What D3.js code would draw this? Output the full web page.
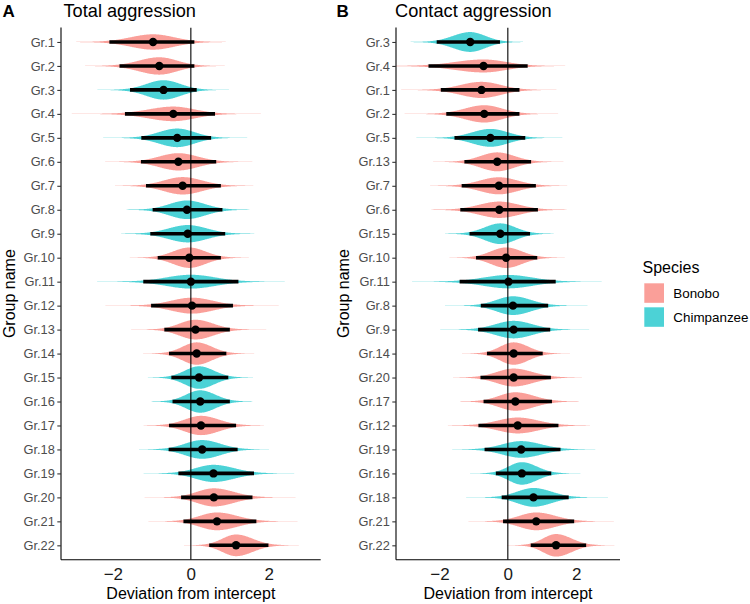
<!DOCTYPE html>
<html><head><meta charset="utf-8">
<script src="https://cdn.jsdelivr.net/npm/d3@7"></script>
<style>body{margin:0;background:#fff}svg{display:block;font-family:"Liberation Sans",Arial,sans-serif}</style>
</head><body><svg id="c" width="750" height="604"></svg>
<script>
// ---- Data: Panel A (Total aggression), top to bottom ----
const groupsA  = ["Gr.1","Gr.2","Gr.3","Gr.4","Gr.5","Gr.6","Gr.7","Gr.8","Gr.9","Gr.10","Gr.11","Gr.12","Gr.13","Gr.14","Gr.15","Gr.16","Gr.17","Gr.18","Gr.19","Gr.20","Gr.21","Gr.22"];
const speciesA = ["Bonobo","Bonobo","Chimpanzee","Bonobo","Chimpanzee","Bonobo","Bonobo","Chimpanzee","Chimpanzee","Bonobo","Chimpanzee","Bonobo","Bonobo","Bonobo","Chimpanzee","Chimpanzee","Bonobo","Chimpanzee","Chimpanzee","Bonobo","Bonobo","Bonobo"];
const medianA  = [-0.97,-0.81,-0.70,-0.45,-0.35,-0.32,-0.21,-0.10,-0.08,-0.04,0.00,0.03,0.12,0.15,0.21,0.24,0.26,0.29,0.58,0.59,0.67,1.16];
const lowerA   = [-2.09,-1.83,-1.56,-1.69,-1.27,-1.28,-1.15,-0.98,-1.04,-0.85,-1.22,-1.02,-0.68,-0.56,-0.50,-0.47,-0.56,-0.57,-0.32,-0.25,-0.19,0.47];
const upperA   = [0.09,0.09,0.15,0.62,0.52,0.65,0.77,0.81,0.88,0.77,1.22,1.08,1.00,0.91,0.96,1.00,1.16,1.20,1.62,1.58,1.68,1.99];

// ---- Data: Panel B (Contact aggression), top to bottom ----
const groupsB  = ["Gr.3","Gr.4","Gr.1","Gr.2","Gr.5","Gr.13","Gr.7","Gr.6","Gr.15","Gr.10","Gr.11","Gr.8","Gr.9","Gr.14","Gr.20","Gr.17","Gr.12","Gr.19","Gr.16","Gr.18","Gr.21","Gr.22"];
const speciesB = ["Chimpanzee","Bonobo","Bonobo","Bonobo","Chimpanzee","Bonobo","Bonobo","Bonobo","Chimpanzee","Bonobo","Chimpanzee","Chimpanzee","Chimpanzee","Bonobo","Bonobo","Bonobo","Bonobo","Chimpanzee","Chimpanzee","Chimpanzee","Bonobo","Bonobo"];
const medianB  = [-1.10,-0.71,-0.77,-0.69,-0.51,-0.31,-0.26,-0.25,-0.22,-0.05,0.02,0.15,0.17,0.17,0.17,0.22,0.29,0.39,0.41,0.75,0.83,1.41];
const lowerB   = [-2.08,-2.32,-1.96,-1.80,-1.56,-1.27,-1.35,-1.39,-1.12,-0.93,-1.41,-0.79,-0.87,-0.61,-0.80,-0.71,-0.86,-0.68,-0.35,-0.18,-0.14,0.67];
const upperB   = [-0.23,0.58,0.34,0.34,0.51,0.68,0.82,0.88,0.65,0.86,1.40,1.18,1.24,1.02,1.26,1.29,1.48,1.54,1.27,1.78,1.94,2.29];

const xTicks = [-2, 0, 2];
const speciesNames = ["Bonobo","Chimpanzee"];
const speciesColors = ["#F8766D","#00BFC4"];

const svg = d3.select("#c");
const color = d3.scaleOrdinal().domain(speciesNames).range(speciesColors);

function panel(cfg) {
  const {groups, species, med, lo, hi, left, right, top, bottom, domain, letter, title, letterX, titleX, yTitleX, id} = cfg;
  const x = d3.scaleLinear().domain(domain).range([left, right]);
  const y = d3.scalePoint().domain(groups).range([top, bottom]).padding(0.6);
  const maxHalf = y.step() * 0.9 / 2;

  svg.append("clipPath").attr("id", id).append("rect")
    .attr("x", left).attr("y", top).attr("width", right - left).attr("height", bottom - top);
  const g = svg.append("g");
  const plot = g.append("g").attr("clip-path", `url(#${id})`);

  const rows = groups.map((name, i) => {
    const sL = (med[i] - lo[i]) / 1.96, sR = (hi[i] - med[i]) / 1.96;
    return {name, sp: species[i], m: med[i], l: lo[i], h: hi[i], sL, sR, s: (sL + sR) / 2};
  });
  const minS = d3.min(rows, r => r.s);

  const area = d3.area().x(d => x(d.v)).y0(d => d.y0).y1(d => d.y1);
  rows.forEach(r => {
    const H = maxHalf * minS / r.s;
    const cy = y(r.name);
    const pts = [];
    const N = 240;
    for (let k = 0; k <= N; k++) {
      const z = -4.2 + 8.4 * k / N;
      const v = r.m + z * (z < 0 ? r.sL : r.sR);
      const hh = H * Math.exp(-z * z / 2) + 0.5 * Math.max(0, 1 - Math.abs(z) / 4.2);
      pts.push({v, y0: cy + hh, y1: cy - hh});
    }
    plot.append("path").attr("d", area(pts)).attr("fill", color(r.sp)).attr("fill-opacity", 0.7);
  });

  // zero line
  plot.append("line").attr("x1", x(0)).attr("x2", x(0)).attr("y1", top).attr("y2", bottom)
    .attr("stroke", "#000").attr("stroke-width", 1.1);

  // intervals and points
  rows.forEach(r => {
    const cy = y(r.name);
    plot.append("line").attr("x1", x(r.l)).attr("x2", x(r.h)).attr("y1", cy).attr("y2", cy)
      .attr("stroke", "#000").attr("stroke-width", 3.6);
    plot.append("circle").attr("cx", x(r.m)).attr("cy", cy).attr("r", 4.2).attr("fill", "#000");
  });

  // axes
  const yAx = g.append("g").attr("transform", `translate(${left},0)`)
    .call(d3.axisLeft(y).tickSize(3.7).tickPadding(2.5));
  yAx.select(".domain").attr("d", `M0,${top}V${bottom}`).attr("stroke", "#000").attr("stroke-width", 1.1);
  yAx.selectAll(".tick line").attr("stroke", "#333").attr("stroke-width", 1.1);
  yAx.selectAll(".tick text").attr("font-size", 12.8).attr("fill", "#4d4d4d")
    .attr("font-family", '"Liberation Sans",Arial,sans-serif');

  const xAx = g.append("g").attr("transform", `translate(0,${bottom})`)
    .call(d3.axisBottom(x).tickValues(xTicks).tickSize(0).tickPadding(8).tickFormat(d3.format("d")));
  xAx.select(".domain").attr("d", `M${left},0H${right}`).attr("stroke", "#000").attr("stroke-width", 1.1);
  xAx.selectAll(".tick text").attr("font-size", 17).attr("fill", "#1a1a1a")
    .attr("font-family", '"Liberation Sans",Arial,sans-serif');

  g.append("text").attr("x", (left + right) / 2).attr("y", 599).attr("text-anchor", "middle")
    .attr("font-size", 16).attr("fill", "#000").text("Deviation from intercept");
  g.append("text").attr("transform", `translate(${yTitleX},${(top + bottom) / 2}) rotate(-90)`)
    .attr("text-anchor", "middle").attr("font-size", 16).attr("fill", "#000").text("Group name");
  g.append("text").attr("x", letterX).attr("y", 16.5).attr("font-size", 17).attr("font-weight", "bold")
    .attr("fill", "#000").text(letter);
  g.append("text").attr("x", titleX).attr("y", 16.5).attr("font-size", 18.2)
    .attr("fill", "#000").text(title);
}

panel({groups: groupsA, species: speciesA, med: medianA, lo: lowerA, hi: upperA,
  left: 61, right: 320.7, top: 27.6, bottom: 559.7, domain: [-3.33, 3.33],
  letter: "A", title: "Total aggression", letterX: 2.5, titleX: 63.5, yTitleX: 15, id: "clipA"});
panel({groups: groupsB, species: speciesB, med: medianB, lo: lowerB, hi: upperB,
  left: 396, right: 620, top: 27.6, bottom: 559.7, domain: [-3.27, 3.28],
  letter: "B", title: "Contact aggression", letterX: 336.5, titleX: 395, yTitleX: 349, id: "clipB"});

// legend
const lg = svg.append("g");
lg.append("text").attr("x", 642.5).attr("y", 272.5).attr("font-size", 16).attr("fill", "#000").text("Species");
speciesNames.forEach((s, i) => {
  const yy = 283.3 + i * 24;
  lg.append("rect").attr("x", 644.3).attr("y", yy).attr("width", 19.7).attr("height", 19.5)
    .attr("fill", color(s)).attr("fill-opacity", 0.7);
  lg.append("text").attr("x", 673.3).attr("y", yy + 15).attr("font-size", 13.4).attr("fill", "#000").text(s);
});
</script></body></html>
